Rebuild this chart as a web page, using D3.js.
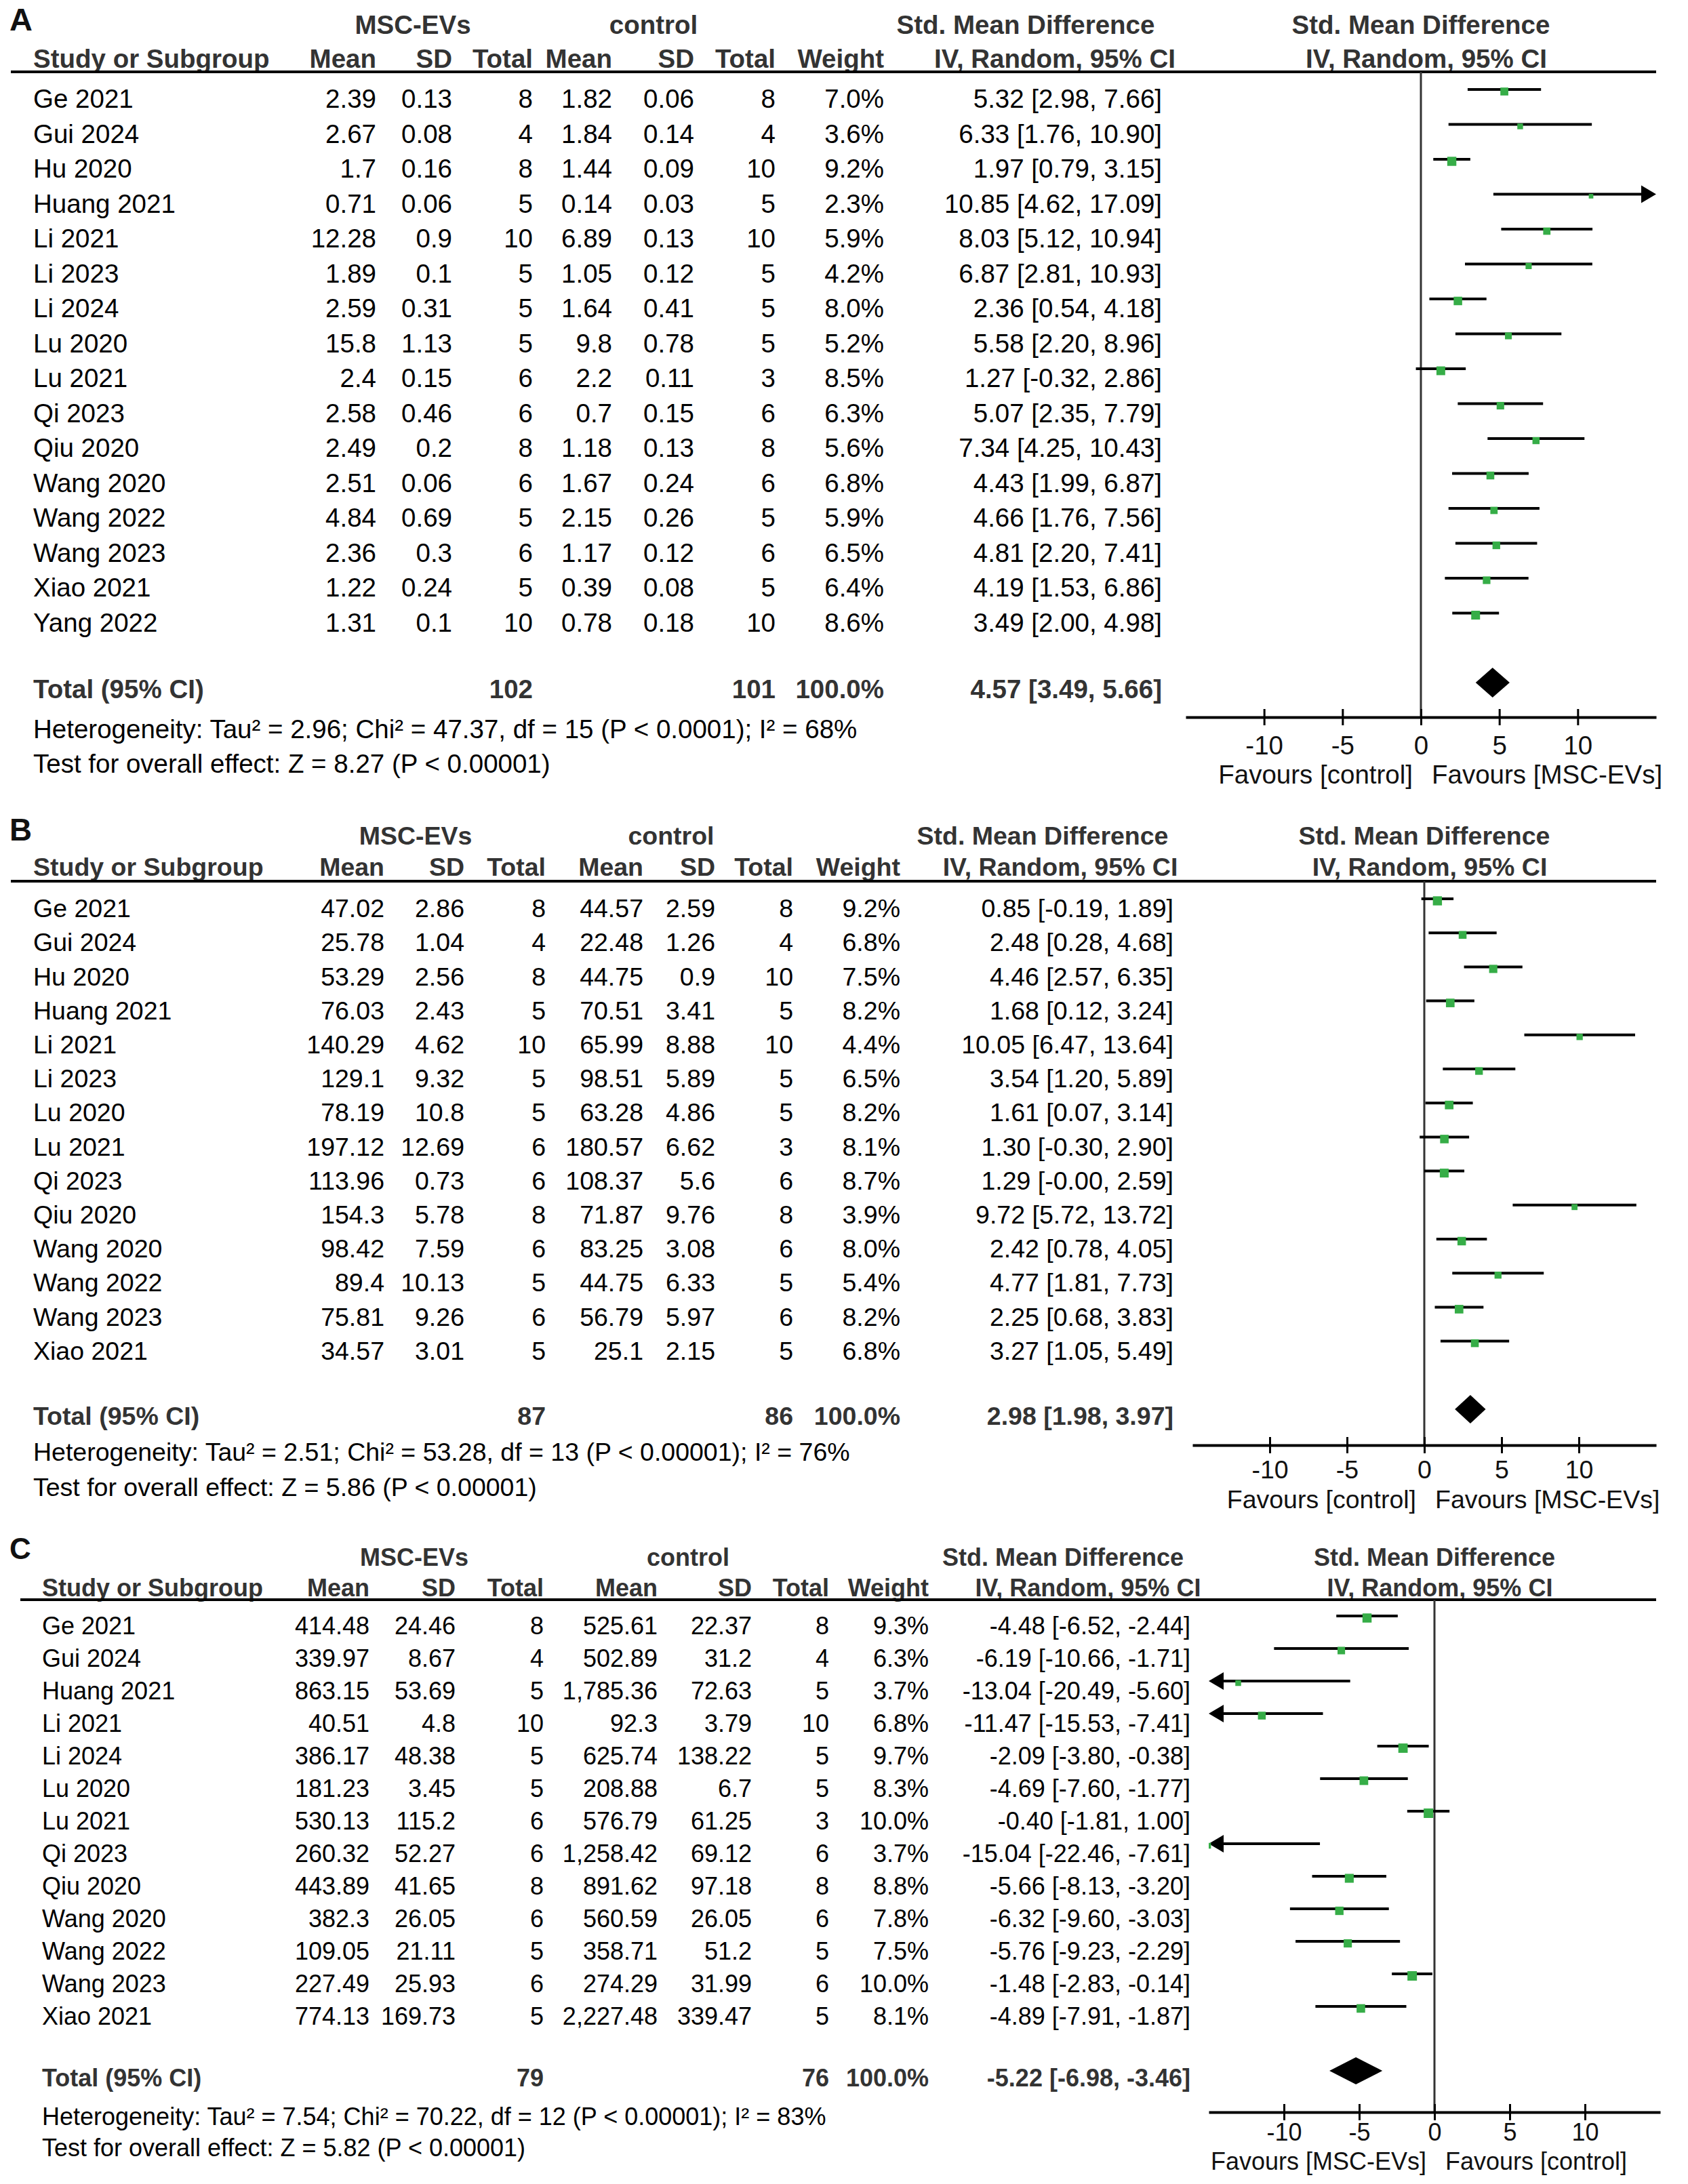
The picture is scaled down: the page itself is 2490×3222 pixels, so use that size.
<!DOCTYPE html>
<html>
<head>
<meta charset="utf-8">
<script src="https://cdn.jsdelivr.net/npm/d3@7"></script>
<style>
  html, body { margin: 0; padding: 0; background: #fff; }
  text { font-family: "Liberation Sans", Arial, "DejaVu Sans", sans-serif; }
</style>
</head>
<body>
<script>
"use strict";

////////////////////////////////
////////// DATA ////////////////
////////////////////////////////

// Panel A
var studiesA = ["Ge 2021","Gui 2024","Hu 2020","Huang 2021","Li 2021","Li 2023","Li 2024","Lu 2020","Lu 2021","Qi 2023","Qiu 2020","Wang 2020","Wang 2022","Wang 2023","Xiao 2021","Yang 2022"];
var evMeanA = [2.39, 2.67, 1.7, 0.71, 12.28, 1.89, 2.59, 15.8, 2.4, 2.58, 2.49, 2.51, 4.84, 2.36, 1.22, 1.31];
var evSdA   = [0.13, 0.08, 0.16, 0.06, 0.9, 0.1, 0.31, 1.13, 0.15, 0.46, 0.2, 0.06, 0.69, 0.3, 0.24, 0.1];
var evNA    = [8, 4, 8, 5, 10, 5, 5, 5, 6, 6, 8, 6, 5, 6, 5, 10];
var ctMeanA = [1.82, 1.84, 1.44, 0.14, 6.89, 1.05, 1.64, 9.8, 2.2, 0.7, 1.18, 1.67, 2.15, 1.17, 0.39, 0.78];
var ctSdA   = [0.06, 0.14, 0.09, 0.03, 0.13, 0.12, 0.41, 0.78, 0.11, 0.15, 0.13, 0.24, 0.26, 0.12, 0.08, 0.18];
var ctNA    = [8, 4, 10, 5, 10, 5, 5, 5, 3, 6, 8, 6, 5, 6, 5, 10];
var weightA = [7.0, 3.6, 9.2, 2.3, 5.9, 4.2, 8.0, 5.2, 8.5, 6.3, 5.6, 6.8, 5.9, 6.5, 6.4, 8.6];
var smdA    = [5.32, 6.33, 1.97, 10.85, 8.03, 6.87, 2.36, 5.58, 1.27, 5.07, 7.34, 4.43, 4.66, 4.81, 4.19, 3.49];
var lowA    = [2.98, 1.76, 0.79, 4.62, 5.12, 2.81, 0.54, 2.20, -0.32, 2.35, 4.25, 1.99, 1.76, 2.20, 1.53, 2.00];
var highA   = [7.66, 10.90, 3.15, 17.09, 10.94, 10.93, 4.18, 8.96, 2.86, 7.79, 10.43, 6.87, 7.56, 7.41, 6.86, 4.98];
// total: nEv, nCt, weight, smd, low, high
var totalA  = [102, 101, 100.0, 4.57, 3.49, 5.66];
var hetA    = "Heterogeneity: Tau² = 2.96; Chi² = 47.37, df = 15 (P < 0.0001); I² = 68%";
var testA   = "Test for overall effect: Z = 8.27 (P < 0.00001)";

// Panel B
var studiesB = ["Ge 2021","Gui 2024","Hu 2020","Huang 2021","Li 2021","Li 2023","Lu 2020","Lu 2021","Qi 2023","Qiu 2020","Wang 2020","Wang 2022","Wang 2023","Xiao 2021"];
var evMeanB = [47.02, 25.78, 53.29, 76.03, 140.29, 129.1, 78.19, 197.12, 113.96, 154.3, 98.42, 89.4, 75.81, 34.57];
var evSdB   = [2.86, 1.04, 2.56, 2.43, 4.62, 9.32, 10.8, 12.69, 0.73, 5.78, 7.59, 10.13, 9.26, 3.01];
var evNB    = [8, 4, 8, 5, 10, 5, 5, 6, 6, 8, 6, 5, 6, 5];
var ctMeanB = [44.57, 22.48, 44.75, 70.51, 65.99, 98.51, 63.28, 180.57, 108.37, 71.87, 83.25, 44.75, 56.79, 25.1];
var ctSdB   = [2.59, 1.26, 0.9, 3.41, 8.88, 5.89, 4.86, 6.62, 5.6, 9.76, 3.08, 6.33, 5.97, 2.15];
var ctNB    = [8, 4, 10, 5, 10, 5, 5, 3, 6, 8, 6, 5, 6, 5];
var weightB = [9.2, 6.8, 7.5, 8.2, 4.4, 6.5, 8.2, 8.1, 8.7, 3.9, 8.0, 5.4, 8.2, 6.8];
var smdB    = [0.85, 2.48, 4.46, 1.68, 10.05, 3.54, 1.61, 1.30, 1.29, 9.72, 2.42, 4.77, 2.25, 3.27];
var lowB    = [-0.19, 0.28, 2.57, 0.12, 6.47, 1.20, 0.07, -0.30, -0.004, 5.72, 0.78, 1.81, 0.68, 1.05];
var highB   = [1.89, 4.68, 6.35, 3.24, 13.64, 5.89, 3.14, 2.90, 2.59, 13.72, 4.05, 7.73, 3.83, 5.49];
var totalB  = [87, 86, 100.0, 2.98, 1.98, 3.97];
var hetB    = "Heterogeneity: Tau² = 2.51; Chi² = 53.28, df = 13 (P < 0.00001); I² = 76%";
var testB   = "Test for overall effect: Z = 5.86 (P < 0.00001)";

// Panel C
var studiesC = ["Ge 2021","Gui 2024","Huang 2021","Li 2021","Li 2024","Lu 2020","Lu 2021","Qi 2023","Qiu 2020","Wang 2020","Wang 2022","Wang 2023","Xiao 2021"];
var evMeanC = [414.48, 339.97, 863.15, 40.51, 386.17, 181.23, 530.13, 260.32, 443.89, 382.3, 109.05, 227.49, 774.13];
var evSdC   = [24.46, 8.67, 53.69, 4.8, 48.38, 3.45, 115.2, 52.27, 41.65, 26.05, 21.11, 25.93, 169.73];
var evNC    = [8, 4, 5, 10, 5, 5, 6, 6, 8, 6, 5, 6, 5];
var ctMeanC = [525.61, 502.89, 1785.36, 92.3, 625.74, 208.88, 576.79, 1258.42, 891.62, 560.59, 358.71, 274.29, 2227.48];
var ctSdC   = [22.37, 31.2, 72.63, 3.79, 138.22, 6.7, 61.25, 69.12, 97.18, 26.05, 51.2, 31.99, 339.47];
var ctNC    = [8, 4, 5, 10, 5, 5, 3, 6, 8, 6, 5, 6, 5];
var weightC = [9.3, 6.3, 3.7, 6.8, 9.7, 8.3, 10.0, 3.7, 8.8, 7.8, 7.5, 10.0, 8.1];
var smdC    = [-4.48, -6.19, -13.04, -11.47, -2.09, -4.69, -0.40, -15.04, -5.66, -6.32, -5.76, -1.48, -4.89];
var lowC    = [-6.52, -10.66, -20.49, -15.53, -3.80, -7.60, -1.81, -22.46, -8.13, -9.60, -9.23, -2.83, -7.91];
var highC   = [-2.44, -1.71, -5.60, -7.41, -0.38, -1.77, 1.00, -7.61, -3.20, -3.03, -2.29, -0.14, -1.87];
var totalC  = [79, 76, 100.0, -5.22, -6.98, -3.46];
var hetC    = "Heterogeneity: Tau² = 7.54; Chi² = 70.22, df = 12 (P < 0.00001); I² = 83%";
var testC   = "Test for overall effect: Z = 5.82 (P < 0.00001)";

var xTicks = [-10, -5, 0, 5, 10];
var xDomain = [-15, 15];

////////////////////////////////
////////// LAYOUT //////////////
////////////////////////////////

var W = 2490, H = 3222;
var green = "#36ad47";
var headColor = "#333";

var loc = d3.formatLocale({decimal: ".", thousands: ",", grouping: [3], currency: ["", ""], minus: "-"});
var fmtNum = loc.format(",");
var fmtTick = loc.format("d");

// each panel was pasted in at a slightly different scale, hence the per-panel font size
var panels = [
  {letter: "A", studies: studiesA, evMean: evMeanA, evSd: evSdA, evN: evNA, ctMean: ctMeanA, ctSd: ctSdA, ctN: ctNA,
   weight: weightA, smd: smdA, low: lowA, high: highA, total: totalA, het: hetA, test: testA,
   fav: ["Favours [control]", "Favours [MSC-EVs]"],
   pos: {fs: 38.5, letterY: 45, groupY: 50, headY: 100, ruleY: 106, ruleX0: 16, textX: 49, row0: 146, step: 51.5,
         totalY: 1017, hetY: 1076, testY: 1127, cols: [555, 667, 786, 903, 1024, 1144, 1304, 1714],
         groupX: [609, 964], smdHeadX: 1513, ivHeadX: 1556, x0: 1749, x1: 2443,
         axisY: 1058, tickY: 1100, favY: 1143, diamondH: 44}},
  {letter: "B", studies: studiesB, evMean: evMeanB, evSd: evSdB, evN: evNB, ctMean: ctMeanB, ctSd: ctSdB, ctN: ctNB,
   weight: weightB, smd: smdB, low: lowB, high: highB, total: totalB, het: hetB, test: testB,
   fav: ["Favours [control]", "Favours [MSC-EVs]"],
   pos: {fs: 37.5, letterY: 1240, groupY: 1246, headY: 1292, ruleY: 1300, ruleX0: 16, textX: 49, row0: 1340, step: 50.2,
         totalY: 2089, hetY: 2142, testY: 2194, cols: [567, 685, 805, 949, 1055, 1170, 1328, 1731],
         groupX: [613, 990], smdHeadX: 1538, ivHeadX: 1564, x0: 1759, x1: 2443,
         axisY: 2132, tickY: 2168, favY: 2212, diamondH: 42}},
  {letter: "C", studies: studiesC, evMean: evMeanC, evSd: evSdC, evN: evNC, ctMean: ctMeanC, ctSd: ctSdC, ctN: ctNC,
   weight: weightC, smd: smdC, low: lowC, high: highC, total: totalC, het: hetC, test: testC,
   fav: ["Favours [MSC-EVs]", "Favours [control]"],
   pos: {fs: 36, letterY: 2300, groupY: 2310, headY: 2355, ruleY: 2360, ruleX0: 30, textX: 62, row0: 2398, step: 48,
         totalY: 3065, hetY: 3122, testY: 3168, cols: [545, 672, 802, 970, 1109, 1223, 1370, 1756],
         groupX: [611, 1015], smdHeadX: 1568, ivHeadX: 1605, x0: 1783, x1: 2449,
         axisY: 3116, tickY: 3145, favY: 3188, diamondH: 40}}
];

var svg = d3.select("body").append("svg")
  .attr("width", W).attr("height", H)
  .attr("viewBox", "0 0 " + W + " " + H);

var sizeScale = d3.scaleSqrt().domain([0, 10]).range([0, 14]);

panels.forEach(drawPanel);

////////////////////////////////
////////// DRAWING /////////////
////////////////////////////////

function addText (g, x, y, str, anchor, bold, color, size) {
  return g.append("text")
    .attr("x", x).attr("y", y)
    .attr("dy", "0.35em")
    .attr("text-anchor", anchor || "start")
    .attr("font-weight", bold ? "bold" : "normal")
    .attr("font-size", size)
    .attr("fill", color || "#000")
    .text(str);
}

function ciText (m, l, h) {
  return m.toFixed(2) + " [" + l.toFixed(2) + ", " + h.toFixed(2) + "]";
}

function drawPanel (p) {
  var c = p.pos;
  var fs = c.fs;
  var g = svg.append("g").attr("class", "panel-" + p.letter);
  var n = p.studies.length;
  var rowY = d3.scaleLinear().domain([0, 1]).range([c.row0, c.row0 + c.step]);
  var x = d3.scaleLinear().domain(xDomain).range([c.x0, c.x1]);
  var zeroX = x(0);

  // panel letter
  g.append("text").attr("x", 14).attr("y", c.letterY)
    .attr("font-size", fs * 1.22).attr("font-weight", "bold").attr("fill", "#111")
    .text(p.letter);

  // group headers
  var gy = c.groupY - fs * 0.36;
  addText(g, c.groupX[0], gy, "MSC-EVs", "middle", true, headColor, fs);
  addText(g, c.groupX[1], gy, "control", "middle", true, headColor, fs);
  addText(g, c.smdHeadX, gy, "Std. Mean Difference", "middle", true, headColor, fs);
  addText(g, zeroX, gy, "Std. Mean Difference", "middle", true, headColor, fs);

  // column headers
  var hy = c.headY - fs * 0.36;
  addText(g, c.textX, hy, "Study or Subgroup", "start", true, headColor, fs);
  var heads = ["Mean", "SD", "Total", "Mean", "SD", "Total", "Weight"];
  heads.forEach(function (h, i) {
    addText(g, c.cols[i], hy, h, "end", true, headColor, fs);
  });
  addText(g, c.ivHeadX, hy, "IV, Random, 95% CI", "middle", true, headColor, fs);
  addText(g, zeroX + 8, hy, "IV, Random, 95% CI", "middle", true, headColor, fs);

  g.append("line")
    .attr("x1", c.ruleX0).attr("x2", 2443)
    .attr("y1", c.ruleY).attr("y2", c.ruleY)
    .attr("stroke", "#000").attr("stroke-width", 4);

  // study rows
  for (var i = 0; i < n; i++) {
    var y = rowY(i);
    var vals = [fmtNum(p.evMean[i]), fmtNum(p.evSd[i]), p.evN[i], fmtNum(p.ctMean[i]), fmtNum(p.ctSd[i]), p.ctN[i], p.weight[i].toFixed(1) + "%"];
    addText(g, c.textX, y, p.studies[i], "start", false, "#000", fs);
    vals.forEach(function (v, j) {
      addText(g, c.cols[j], y, v, "end", false, "#000", fs);
    });
    addText(g, c.cols[7], y, ciText(p.smd[i], p.low[i], p.high[i]), "end", false, "#000", fs);
  }

  // totals
  var t = p.total;
  addText(g, c.textX, c.totalY, "Total (95% CI)", "start", true, headColor, fs);
  addText(g, c.cols[2], c.totalY, t[0], "end", true, headColor, fs);
  addText(g, c.cols[5], c.totalY, t[1], "end", true, headColor, fs);
  addText(g, c.cols[6], c.totalY, t[2].toFixed(1) + "%", "end", true, headColor, fs);
  addText(g, c.cols[7], c.totalY, ciText(t[3], t[4], t[5]), "end", true, headColor, fs);
  addText(g, c.textX, c.hetY, p.het, "start", false, "#000", fs);
  addText(g, c.textX, c.testY, p.test, "start", false, "#000", fs);

  // forest plot
  var clipId = "clip" + p.letter;
  g.append("clipPath").attr("id", clipId)
    .append("rect").attr("x", c.x0).attr("y", c.ruleY).attr("width", c.x1 - c.x0).attr("height", c.axisY - c.ruleY);

  g.append("line")
    .attr("x1", zeroX).attr("x2", zeroX)
    .attr("y1", c.ruleY).attr("y2", c.axisY)
    .attr("stroke", "#333").attr("stroke-width", 3);

  var rows = d3.range(n).map(function (i) {
    return {y: rowY(i) - 14, m: p.smd[i], l: p.low[i], h: p.high[i], w: p.weight[i]};
  });

  var plot = g.append("g");
  var headLen = 22, headHalf = 13;
  rows.forEach(function (r) {
    var ax0 = x(Math.max(r.l, xDomain[0]));
    var ax1 = x(Math.min(r.h, xDomain[1]));
    if (r.h > xDomain[1]) ax1 -= headLen;
    if (r.l < xDomain[0]) ax0 += headLen;
    plot.append("line")
      .attr("x1", ax0).attr("x2", ax1)
      .attr("y1", r.y).attr("y2", r.y)
      .attr("stroke", "#000").attr("stroke-width", 4);
    if (r.h > xDomain[1]) {
      var tipR = x(xDomain[1]);
      plot.append("path")
        .attr("d", "M" + tipR + "," + r.y + "L" + (tipR - headLen) + "," + (r.y - headHalf) + "L" + (tipR - headLen) + "," + (r.y + headHalf) + "Z")
        .attr("fill", "#000");
    }
    if (r.l < xDomain[0]) {
      var tipL = x(xDomain[0]);
      plot.append("path")
        .attr("d", "M" + tipL + "," + r.y + "L" + (tipL + headLen) + "," + (r.y - headHalf) + "L" + (tipL + headLen) + "," + (r.y + headHalf) + "Z")
        .attr("fill", "#000");
    }
  });

  plot.append("g").attr("clip-path", "url(#" + clipId + ")")
    .selectAll("rect").data(rows).enter().append("rect")
    .attr("x", function (d) { return x(d.m) - sizeScale(d.w) / 2; })
    .attr("y", function (d) { return d.y + 3 - sizeScale(d.w) / 2; })
    .attr("width", function (d) { return sizeScale(d.w); })
    .attr("height", function (d) { return sizeScale(d.w); })
    .attr("fill", green);

  // summary diamond
  var dy = c.totalY - 10, dh = c.diamondH / 2;
  g.append("path")
    .attr("d", "M" + x(t[4]) + "," + dy + "L" + x(t[3]) + "," + (dy - dh) + "L" + x(t[5]) + "," + dy + "L" + x(t[3]) + "," + (dy + dh) + "Z")
    .attr("fill", "#000");

  // axis
  var axis = d3.axisBottom(x).tickValues(xTicks).tickFormat(fmtTick).tickSizeOuter(0).tickSizeInner(12);
  var ag = g.append("g").attr("transform", "translate(0," + c.axisY + ")").call(axis);
  ag.select(".domain").attr("stroke", "#000").attr("stroke-width", 4);
  ag.selectAll(".tick line").attr("y1", -12).attr("y2", 12).attr("stroke", "#000").attr("stroke-width", 3);
  ag.selectAll(".tick text")
    .attr("y", c.tickY - c.axisY).attr("dy", "0.35em")
    .attr("font-size", fs).attr("fill", "#111")
    .attr("font-family", null);

  addText(g, zeroX - 12, c.favY, p.fav[0], "end", false, "#111", fs);
  addText(g, zeroX + 16, c.favY, p.fav[1], "start", false, "#111", fs);
}
</script>
</body>
</html>
